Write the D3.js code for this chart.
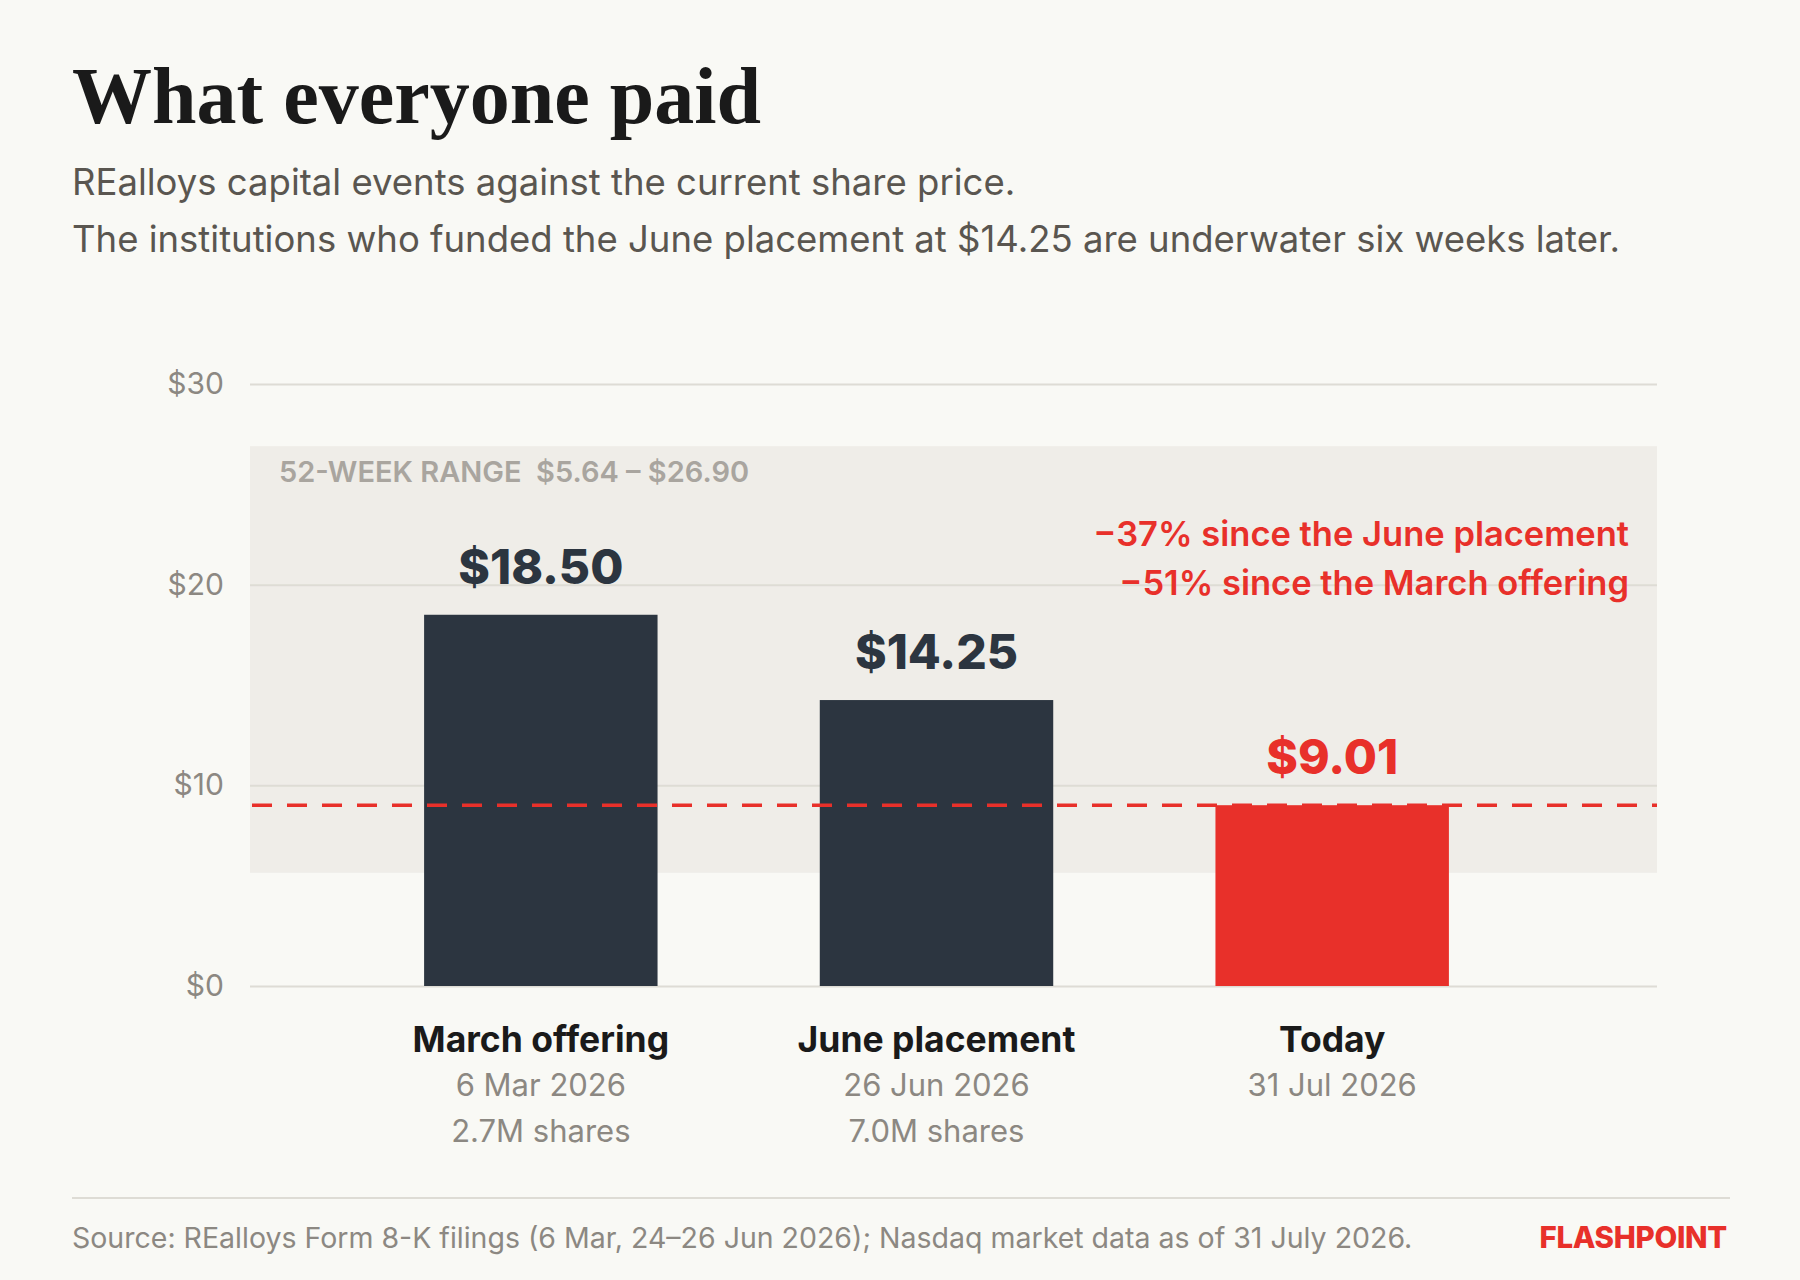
<!DOCTYPE html>
<html>
<head>
<meta charset="utf-8">
<script src="https://cdn.jsdelivr.net/npm/d3@7/dist/d3.min.js"></script>
<style>
  html, body { margin: 0; padding: 0; background: #f9f9f5; }
  svg { display: block; }
</style>
</head>
<body>
<script>
// ---- data ----
const categories = ["March offering", "June placement", "Today"];
const dates = ["6 Mar 2026", "26 Jun 2026", "31 Jul 2026"];
const shares = ["2.7M shares", "7.0M shares", ""];
const prices = [18.50, 14.25, 9.01];
const valueLabels = ["$18.50", "$14.25", "$9.01"];
const yTicks = [0, 10, 20, 30];
const rangeLow = 5.64;
const rangeHigh = 26.90;
const currentPrice = 9.01;
const annotations = ["\u221237% since the June placement", "\u221251% since the March offering"];

const W = 1800, H = 1280;
const SANS = "Inter, 'Noto Sans', sans-serif";
const SERIF = "'Liberation Serif', 'DejaVu Serif', serif";
const colors = { bg: "#f9f9f5", band: "#efede8", grid: "#dedcd5", dark: "#2c3540", red: "#e8302a",
                 title: "#1a1a1a", sub: "#5a5650", muted: "#8c8882", bandText: "#a9a59f" };

const svg = d3.select("body").append("svg").attr("width", W).attr("height", H)
  .style("font-family", SANS);
svg.append("rect").attr("width", W).attr("height", H).attr("fill", colors.bg);

// title + subtitle
svg.append("text").attr("x", 72).attr("y", 123)
  .style("font-family", SERIF)
  .attr("font-weight", 700).attr("font-size", 80).attr("fill", colors.title)
  .text("What everyone paid");
const subs = ["REalloys capital events against the current share price.",
  "The institutions who funded the June placement at $14.25 are underwater six weeks later."];
svg.selectAll("text.sub").data(subs).join("text").attr("class", "sub")
  .attr("x", 72).attr("y", (d, i) => 195 + i * 57)
  .attr("font-size", 36.5).attr("fill", colors.sub).text(d => d);

// scales
const plotL = 250, plotR = 1657;
const y = d3.scaleLinear().domain([0, 30]).range([986, 384]);
const x = d3.scaleBand().domain(categories).range([250, 1623]).paddingInner(0.41).paddingOuter(0.44);

// 52-week band
svg.append("rect").attr("x", plotL).attr("width", plotR - plotL)
  .attr("y", y(rangeHigh)).attr("height", y(rangeLow) - y(rangeHigh)).attr("fill", colors.band);
svg.append("text").attr("x", 279).attr("y", 482)
  .attr("font-size", 29).attr("font-weight", 600).attr("fill", colors.bandText)
  .text("52-WEEK RANGE\u2002$" + rangeLow.toFixed(2) + " \u2013 $" + rangeHigh.toFixed(2));

// gridlines + y axis
const yAxis = d3.axisLeft(y).tickValues(yTicks).tickSize(-(plotR - plotL)).tickPadding(26)
  .tickFormat(d => "$" + d);
const gy = svg.append("g").attr("transform", `translate(${plotL},0)`).call(yAxis);
gy.select(".domain").remove();
gy.selectAll(".tick line").attr("stroke", colors.grid).attr("stroke-width", 2);
gy.selectAll(".tick text").attr("font-size", 30).attr("fill", colors.muted)
  .style("font-family", SANS);

// bars
svg.selectAll("rect.bar").data(prices).join("rect").attr("class", "bar")
  .attr("x", (d, i) => x(categories[i])).attr("width", x.bandwidth())
  .attr("y", d => y(d)).attr("height", d => y(0) - y(d))
  .attr("fill", (d, i) => i === prices.length - 1 ? colors.red : colors.dark);

// value labels
svg.selectAll("text.val").data(prices).join("text").attr("class", "val")
  .attr("x", (d, i) => x(categories[i]) + x.bandwidth() / 2).attr("y", d => y(d) - 31)
  .attr("text-anchor", "middle").attr("font-size", 48).attr("font-weight", 800)
  .attr("fill", (d, i) => i === prices.length - 1 ? colors.red : colors.dark)
  .text((d, i) => valueLabels[i]);

// current price dashed line
svg.append("line").attr("x1", plotL + 2).attr("x2", plotR).attr("y1", y(currentPrice)).attr("y2", y(currentPrice))
  .attr("stroke", colors.red).attr("stroke-width", 3.5).attr("stroke-dasharray", "20 15");

// annotations
svg.selectAll("text.ann").data(annotations).join("text").attr("class", "ann")
  .attr("x", 1629).attr("y", (d, i) => 546 + i * 49)
  .attr("text-anchor", "end").attr("font-size", 34.5).attr("font-weight", 600)
  .attr("fill", colors.red).text(d => d);

// category labels
const cat = svg.selectAll("g.cat").data(categories).join("g").attr("class", "cat")
  .attr("transform", d => `translate(${x(d) + x.bandwidth() / 2},0)`);
cat.append("text").attr("y", 1052).attr("text-anchor", "middle").attr("font-size", 35.5)
  .attr("font-weight", 650).attr("fill", colors.title).text(d => d);
cat.append("text").attr("y", 1096).attr("text-anchor", "middle").attr("font-size", 31)
  .attr("fill", colors.muted).text((d, i) => dates[i]);
cat.append("text").attr("y", 1142).attr("text-anchor", "middle").attr("font-size", 31)
  .attr("fill", colors.muted).text((d, i) => shares[i]);

// footer
svg.append("line").attr("x1", 72).attr("x2", 1730).attr("y1", 1198).attr("y2", 1198)
  .attr("stroke", colors.grid).attr("stroke-width", 2);
svg.append("text").attr("x", 72).attr("y", 1248).attr("font-size", 28.5).attr("fill", colors.muted)
  .text("Source: REalloys Form 8-K filings (6 Mar, 24\u201326 Jun 2026); Nasdaq market data as of 31 July 2026.");
svg.append("text").attr("x", 1727).attr("y", 1248).attr("text-anchor", "end")
  .attr("font-size", 29.5).attr("font-weight", 800).attr("fill", colors.red).attr("letter-spacing", -0.3)
  .text("FLASHPOINT");
</script>
</body>
</html>
